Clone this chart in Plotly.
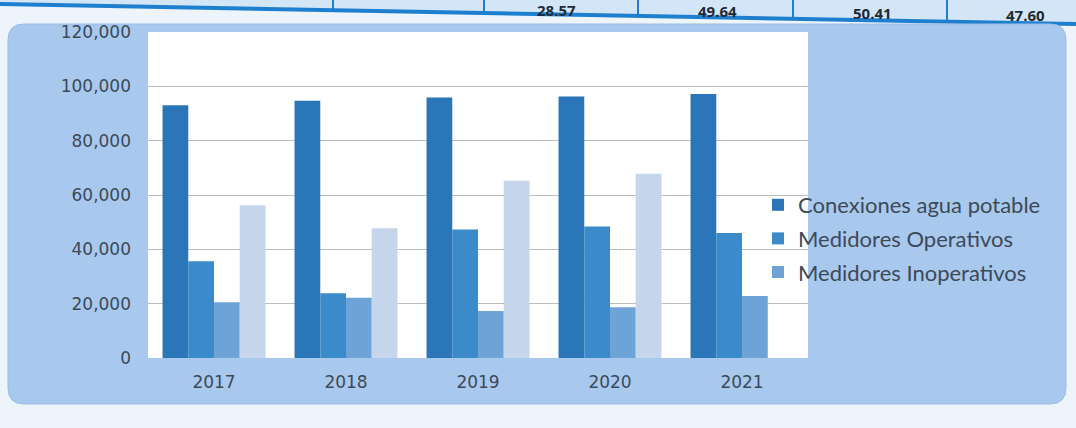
import plotly.graph_objects as go

# ---- data ----
years = ["2017", "2018", "2019", "2020", "2021"]
conexiones = [93000, 94700, 95900, 96300, 97200]
operativos = [35600, 23800, 47300, 48400, 46000]
inoperativos = [20500, 22200, 17300, 18700, 22800]
total_medidores = [56200, 47800, 65200, 67800, None]
y_ticks = [0, 20000, 40000, 60000, 80000, 100000, 120000]
y_tick_labels = ["0", "20,000", "40,000", "60,000", "80,000", "100,000", "120,000"]
table_values = ["28.57", "49.64", "50.41", "47.60"]

# ---- layout geometry (pixels) ----
FIG_W, FIG_H = 1076, 428
L, R, T, B = 148, 808, 32, 358
W, H = R - L, B - T


def px(x):
    return (x - L) / W


def py(y):
    return (B - y) / H


def rounded_rect(x0, y0, x1, y1, r):
    rx, ry = r / W, r / H
    X0, X1, Y0, Y1 = px(x0), px(x1), py(y0), py(y1)
    return (f"M {X0+rx},{Y0} L {X1-rx},{Y0} Q {X1},{Y0} {X1},{Y0-ry} "
            f"L {X1},{Y1+ry} Q {X1},{Y1} {X1-rx},{Y1} L {X0+rx},{Y1} "
            f"Q {X0},{Y1} {X0},{Y1+ry} L {X0},{Y0-ry} Q {X0},{Y0} {X0+rx},{Y0} Z")


fig = go.Figure()
fig.add_trace(go.Bar(x=years, y=conexiones, name="Conexiones agua potable",
                     marker=dict(color="#2a76b8", line=dict(width=0)), legendgroup="a"))
fig.add_trace(go.Bar(x=years, y=operativos, name="Medidores Operativos",
                     marker=dict(color="#3b8bcb", line=dict(width=0)), legendgroup="b"))
fig.add_trace(go.Bar(x=years, y=inoperativos, name="Medidores Inoperativos",
                     marker=dict(color="#6da3d6", line=dict(width=0)), legendgroup="c"))
fig.add_trace(go.Bar(x=years, y=total_medidores, name="Total medidores",
                     marker=dict(color="#c4d5ec", line=dict(width=0)), showlegend=False,
                     legendgroup="d"))

shapes = []
# top table band
shapes.append(dict(type="path", xref="paper", yref="paper", layer="below",
                   path=f"M {px(0)},{py(-5)} L {px(FIG_W)},{py(-5)} L {px(FIG_W)},{py(24)} L {px(0)},{py(4)} Z",
                   fillcolor="#d3e6f7", line=dict(width=0)))
for xc in [333, 484, 638, 793, 947]:
    yb = 4 + (24 - 4) * xc / FIG_W
    shapes.append(dict(type="line", xref="paper", yref="paper", layer="below",
                       x0=px(xc), x1=px(xc), y0=py(-5), y1=py(yb),
                       line=dict(color="#1f7fcf", width=2)))
shapes.append(dict(type="line", xref="paper", yref="paper", layer="below",
                   x0=px(0), x1=px(FIG_W), y0=py(4), y1=py(24),
                   line=dict(color="#1f7fcf", width=4)))
# chart panel
shapes.append(dict(type="path", xref="paper", yref="paper", layer="below",
                   path=rounded_rect(8, 24, 1066, 404, 16),
                   fillcolor="#a9c8ee", line=dict(color="#9dbde6", width=1)))
# white plot area
shapes.append(dict(type="rect", xref="paper", yref="paper", layer="below",
                   x0=0, x1=1, y0=0, y1=1, fillcolor="#ffffff", line=dict(width=0)))

annotations = []
for txt, (xa, ya) in zip(table_values, [(556, 10), (717, 11), (872, 13), (1025, 15)]):
    annotations.append(dict(text=f"<b>{txt}</b>", x=px(xa), y=py(ya), xref="paper", yref="paper",
                            showarrow=False, xanchor="center", yanchor="middle",
                            font=dict(family="Open Sans", size=15, color="#1e2a36")))

fig.update_layout(
    width=FIG_W, height=FIG_H,
    margin=dict(l=L, r=FIG_W - R, t=T, b=FIG_H - B, pad=0),
    paper_bgcolor="#eef4fb",
    plot_bgcolor="#ffffff",
    barmode="group", bargap=0.22, bargroupgap=0,
    shapes=shapes,
    annotations=annotations,
    showlegend=True,
    legend=dict(x=px(758), y=py(184), xanchor="left", yanchor="top",
                bgcolor="rgba(0,0,0,0)", traceorder="grouped", tracegroupgap=2,
                font=dict(family="Lato", size=22, color="#3c4a58")),
    xaxis=dict(showgrid=False, showline=False, ticks="", ticklabelstandoff=12,
               tickfont=dict(family="DejaVu Sans", size=17, color="#3c4a58")),
    yaxis=dict(range=[0, 120000], tickvals=y_ticks, ticktext=y_tick_labels,
               showgrid=True, gridcolor="#bdbdbd", gridwidth=1, zeroline=False,
               showline=False, ticks="", ticklabelstandoff=16,
               tickfont=dict(family="DejaVu Sans", size=17, color="#3c4a58")),
)

fig.write_html("out.html", config={"displayModeBar": False},
               post_script="document.body.style.margin='0';")
